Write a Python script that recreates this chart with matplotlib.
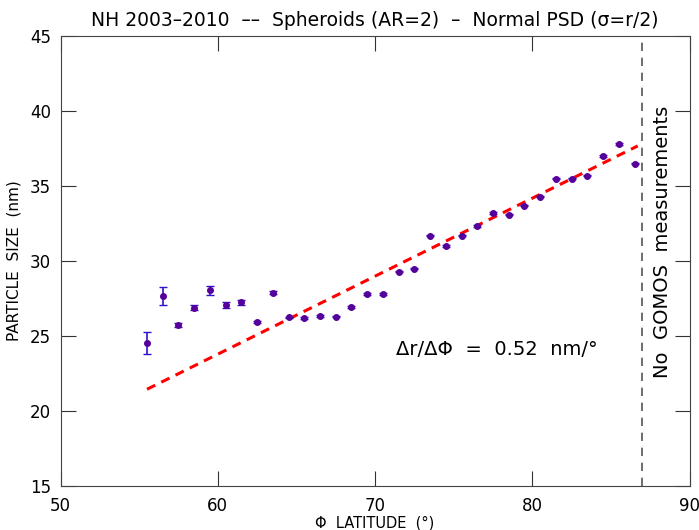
import numpy as np
import matplotlib.pyplot as plt

# latitude bins and retrieved particle size
lat = [55.5, 56.5, 57.5, 58.5, 59.5, 60.5, 61.5, 62.5, 63.5, 64.5, 65.5,
       66.5, 67.5, 68.5, 69.5, 70.5, 71.5, 72.5, 73.5, 74.5, 75.5, 76.5,
       77.5, 78.5, 79.5, 80.5, 81.5, 82.5, 83.5, 84.5, 85.5, 86.5]
size = [24.55, 27.7, 25.75, 26.9, 28.05, 27.1, 27.25, 25.95, 27.9, 26.25, 26.2,
        26.35, 26.3, 26.95, 27.8, 27.8, 29.3, 29.5, 31.7, 31.0, 31.7, 32.35,
        33.2, 33.1, 33.7, 34.3, 35.5, 35.5, 35.7, 37.0, 37.8, 36.5]
err = [0.75, 0.6, 0.15, 0.15, 0.3, 0.2, 0.15, 0.05, 0.12, 0.05, 0.05,
       0.05, 0.05, 0.05, 0.08, 0.05, 0.05, 0.05, 0.05, 0.05, 0.05, 0.05,
       0.05, 0.05, 0.05, 0.05, 0.05, 0.05, 0.05, 0.05, 0.05, 0.05]

# linear fit endpoints (slope 0.52 nm/deg)
fit_x = [55.5, 86.7]
fit_y = [21.45, 21.45 + 0.52 * (86.7 - 55.5)]

no_data_lat = 87.0

fig = plt.figure(figsize=(6.99, 5.30), dpi=100)
ax = fig.add_axes([0.0866, 0.083, 0.900, 0.849])

ax.plot(fit_x, fit_y, color='red', linestyle=(0, (3, 2.2)), linewidth=2.2)
ax.errorbar(lat, size, yerr=err, fmt='o', color='#55009a', ecolor='#3311cc',
            markersize=4, elinewidth=1.2, capsize=3, capthick=1)
ax.axvline(no_data_lat, color='#555555', linestyle=(0, (5, 4)), linewidth=1.2)

ax.set_xlim(50, 90)
ax.set_ylim(15, 45)
ax.set_xticks([50, 60, 70, 80, 90])
ax.set_yticks([15, 20, 25, 30, 35, 40, 45])
ax.tick_params(direction='in', length=11, top=True, right=True,
               labelsize=12, pad=7, color='#333333')
ax.tick_params(axis='x', pad=8)
for s in ax.spines.values():
    s.set_color('#444444')

ax.set_xlabel('Φ  LATITUDE  (°)', fontsize=10.5, labelpad=0)
ax.set_ylabel('PARTICLE  SIZE  (nm)', fontsize=11, labelpad=6)
ax.set_title('NH 2003–2010  ––  Spheroids (AR=2)  –  Normal PSD (σ=r/2)',
             fontsize=13.5, pad=7)

ax.text(71.3, 24.1, 'Δr/ΔΦ  =  0.52  nm/°', fontsize=14, va='center')
ax.text(88.3, 31.3, 'No  GOMOS  measurements', rotation=90, fontsize=14,
        ha='center', va='center')

fig.savefig('out.png', dpi=100)
